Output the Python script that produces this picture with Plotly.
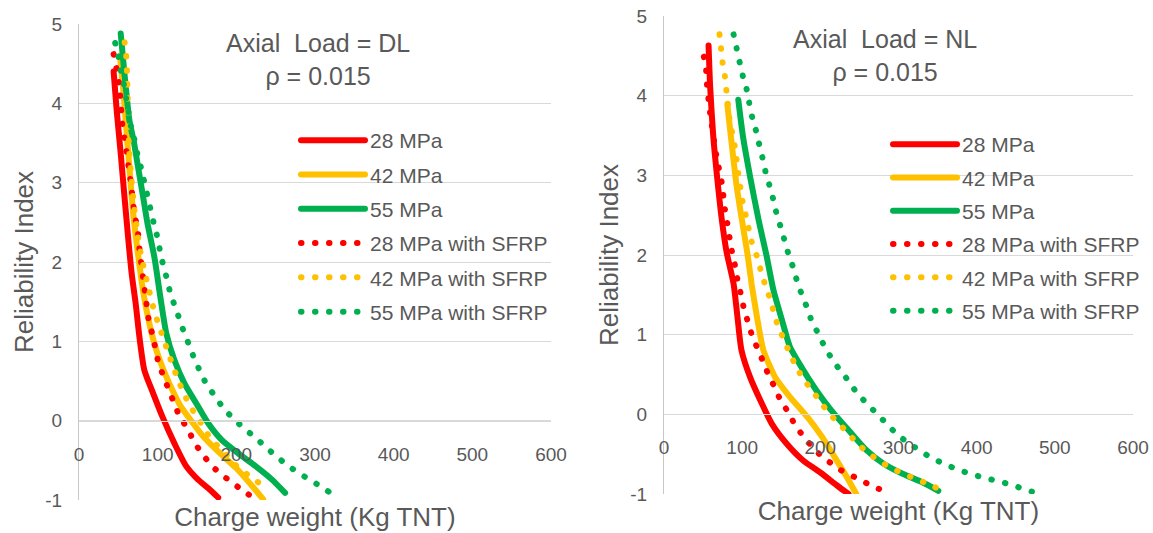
import plotly.graph_objects as go

# ---------------- data ----------------
series_names = ["28 MPa", "42 MPa", "55 MPa",
                "28 MPa with SFRP", "42 MPa with SFRP", "55 MPa with SFRP"]
x_ticks = [0, 100, 200, 300, 400, 500, 600]
y_ticks = [-1, 0, 1, 2, 3, 4, 5]
y_tick_text = ["-1", "0", "1", "2", "3", "4", "5"]

# Left panel: Axial Load = DL
dl_28_x = [44, 48, 53, 58, 63, 67, 72, 77, 83, 94, 106, 121, 136, 151, 164, 177]
dl_28_y = [4.40, 3.90, 3.37, 2.80, 2.25, 1.85, 1.48, 1.04, 0.64, 0.35, 0.05, -0.28, -0.57, -0.74, -0.85, -0.97]
dl_42_x = [52, 56, 60, 64, 69, 75, 82, 90, 98, 107, 118, 130, 144, 158, 178, 200, 218, 234]
dl_42_y = [4.60, 4.20, 3.70, 3.20, 2.60, 2.10, 1.60, 1.20, 0.90, 0.65, 0.40, 0.17, -0.02, -0.20, -0.40, -0.60, -0.80, -0.99]
dl_55_x = [53, 58, 64, 70, 75, 81, 87, 96, 104, 111, 121, 134, 149, 164, 181, 202, 224, 245, 262]
dl_55_y = [4.88, 4.35, 3.79, 3.50, 3.20, 2.85, 2.49, 2.05, 1.52, 1.10, 0.77, 0.47, 0.22, -0.03, -0.24, -0.41, -0.57, -0.74, -0.91]
dl_28s_x = [44, 51, 55, 58, 63, 66, 70, 75, 77, 84, 89, 94, 101, 109, 114, 121, 128, 138, 146, 156, 169, 181, 195, 209, 224]
dl_28s_y = [4.62, 4.25, 3.74, 3.56, 3.20, 2.99, 2.65, 2.36, 2.15, 1.61, 1.25, 1.06, 0.73, 0.52, 0.39, 0.22, 0.05, -0.10, -0.26, -0.41, -0.57, -0.68, -0.78, -0.89, -0.98]
dl_42s_x = [58, 60, 61, 64, 66, 70, 75, 79, 87, 96, 101, 113, 119, 125, 132, 140, 149, 159, 168, 181, 194, 207, 222, 236]
dl_42s_y = [4.77, 4.60, 4.39, 3.37, 3.12, 2.70, 2.32, 2.08, 1.73, 1.37, 1.22, 0.87, 0.70, 0.54, 0.37, 0.21, 0.06, -0.09, -0.24, -0.36, -0.51, -0.63, -0.73, -0.85]
dl_55s_x = [46, 50, 53, 57, 60, 63, 66, 70, 74, 79, 95, 100, 103, 107, 112, 116, 122, 128, 134, 141, 147, 155, 163, 173, 184, 197, 210, 224, 238, 251, 266, 281, 296, 312, 327]
dl_55s_y = [4.76, 4.59, 4.42, 4.24, 4.06, 3.89, 3.71, 3.56, 3.37, 3.18, 2.49, 2.30, 2.14, 1.96, 1.78, 1.61, 1.44, 1.27, 1.10, 0.93, 0.77, 0.60, 0.44, 0.31, 0.15, 0.02, -0.10, -0.21, -0.34, -0.45, -0.57, -0.67, -0.76, -0.86, -0.96]

# Right panel: Axial Load = NL
nl_28_x = [57, 59, 63, 67, 74, 80, 89, 94, 99, 110, 123, 138, 157, 178, 200, 221, 236]
nl_28_y = [4.63, 4.12, 3.49, 3.07, 2.44, 2.04, 1.64, 1.22, 0.81, 0.47, 0.18, -0.12, -0.37, -0.58, -0.73, -0.89, -1.00]
nl_42_x = [81, 87, 93, 101, 107, 112, 119, 127, 142, 161, 183, 202, 221, 234, 246]
nl_42_y = [3.89, 3.36, 2.86, 2.36, 2.00, 1.64, 1.22, 0.81, 0.47, 0.22, -0.03, -0.28, -0.58, -0.79, -1.00]
nl_55_x = [95, 101, 110, 121, 131, 140, 151, 161, 176, 195, 214, 238, 259, 281, 306, 330, 351]
nl_55_y = [3.95, 3.49, 2.99, 2.44, 2.00, 1.56, 1.18, 0.85, 0.59, 0.30, 0.05, -0.22, -0.45, -0.62, -0.75, -0.85, -0.96]
nl_28s_x = [51, 54, 55, 57, 59, 67, 74, 78, 81, 84, 87, 91, 94, 98, 102, 107, 112, 119, 126, 133, 141, 148, 158, 167, 177, 189, 202, 216, 231, 249, 264, 281]
nl_28s_y = [4.49, 4.31, 4.14, 3.95, 3.78, 3.25, 2.90, 2.57, 2.40, 2.21, 2.04, 1.86, 1.69, 1.52, 1.34, 1.17, 1.01, 0.84, 0.68, 0.51, 0.35, 0.20, 0.04, -0.12, -0.26, -0.40, -0.53, -0.63, -0.73, -0.81, -0.89, -0.96]
nl_42s_x = [71, 73, 75, 78, 80, 84, 91, 95, 101, 106, 112, 119, 124, 129, 135, 140, 145, 152, 159, 167, 176, 186, 197, 208, 220, 233, 245, 258, 273, 288, 305, 322, 339, 355]
nl_42s_y = [4.77, 4.59, 4.41, 4.24, 4.05, 3.70, 3.34, 3.03, 2.65, 2.44, 2.17, 1.98, 1.80, 1.64, 1.47, 1.30, 1.13, 0.97, 0.81, 0.64, 0.48, 0.34, 0.20, 0.05, -0.08, -0.21, -0.34, -0.46, -0.57, -0.66, -0.74, -0.81, -0.88, -0.95]
nl_55s_x = [89, 93, 97, 101, 106, 109, 113, 118, 122, 126, 130, 135, 140, 144, 149, 154, 159, 165, 170, 176, 183, 189, 197, 205, 214, 224, 236, 246, 258, 271, 284, 297, 310, 325, 341, 358, 375, 393, 411, 428, 446, 464, 481]
nl_55s_y = [4.77, 4.59, 4.41, 4.24, 4.07, 3.91, 3.72, 3.55, 3.38, 3.22, 3.04, 2.87, 2.69, 2.52, 2.36, 2.19, 2.02, 1.85, 1.68, 1.51, 1.34, 1.17, 1.02, 0.86, 0.71, 0.57, 0.42, 0.28, 0.15, 0.02, -0.11, -0.24, -0.34, -0.44, -0.54, -0.62, -0.69, -0.75, -0.80, -0.84, -0.89, -0.95, -1.00]

panel_titles = ["Axial\u00a0 Load = DL<br>\u03c1 = 0.015", "Axial\u00a0 Load = NL<br>\u03c1 = 0.015"]
x_title = "Charge weight (Kg TNT)"
y_title = "Reliability Index"

# ---------------- styling ----------------
colors = ["#FF0000", "#FFC000", "#00B050", "#FF0000", "#FFC000", "#00B050"]
dashes = ["solid", "solid", "solid", "0.5px,13.5px", "0.5px,13.5px", "0.5px,13.5px"]
TXT = "#595959"
GRID = "#D9D9D9"
FONT = "Liberation Sans, Arial, sans-serif"
W, H = 1153, 533
LW = 6

fig = go.Figure()

left_data = [(dl_28_x, dl_28_y), (dl_42_x, dl_42_y), (dl_55_x, dl_55_y),
             (dl_28s_x, dl_28s_y), (dl_42s_x, dl_42s_y), (dl_55s_x, dl_55s_y)]
right_data = [(nl_28_x, nl_28_y), (nl_42_x, nl_42_y), (nl_55_x, nl_55_y),
              (nl_28s_x, nl_28s_y), (nl_42s_x, nl_42s_y), (nl_55s_x, nl_55s_y)]

for i, (xs, ys) in enumerate(left_data):
    fig.add_trace(go.Scatter(x=xs, y=ys, mode="lines", name=series_names[i],
                             line=dict(color=colors[i], width=LW, dash=dashes[i],
                                       shape="spline", smoothing=0.6),
                             xaxis="x", yaxis="y", legend="legend",
                             legendgroup="L%d" % i))
for i, (xs, ys) in enumerate(right_data):
    fig.add_trace(go.Scatter(x=xs, y=ys, mode="lines", name=series_names[i],
                             line=dict(color=colors[i], width=LW, dash=dashes[i],
                                       shape="spline", smoothing=0.6),
                             xaxis="x2", yaxis="y2", legend="legend2",
                             legendgroup="R%d" % i))

# pixel geometry of each panel (left, right, top, bottom)
panels = [(79, 551, 24, 500), (664, 1133, 16, 494)]


def px_x(p):
    return p / W


def px_y(p):
    return 1 - p / H


axis_common_x = dict(range=[0, 600], tickvals=x_ticks, showgrid=False, zeroline=False,
                     showline=True, linecolor=GRID, linewidth=1.3, ticks="",
                     automargin=False,
                     tickfont=dict(size=19, color=TXT, family=FONT),
                     ticklabelstandoff=16,
                     title=dict(text=x_title, font=dict(size=26, color=TXT, family=FONT), standoff=44))
axis_common_y = dict(range=[-1, 5], tickvals=y_ticks, ticktext=y_tick_text,
                     showgrid=True, gridcolor=GRID, gridwidth=1.3,
                     zeroline=False, showline=True, linecolor="#C8C8C8", linewidth=1.3, ticks="",
                     automargin=False,
                     tickfont=dict(size=19, color=TXT, family=FONT),
                     ticklabelstandoff=12,
                     title=dict(text=y_title, font=dict(size=26, color=TXT, family=FONT), standoff=4))

(l1, r1, t1, b1), (l2, r2, t2, b2) = panels
y0_left = px_y(t1 + (b1 - t1) * 5 / 6)
y0_right = px_y(t2 + (b2 - t2) * 5 / 6)

fig.update_layout(
    width=W, height=H,
    margin=dict(l=0, r=0, t=0, b=0, autoexpand=False),
    paper_bgcolor="white", plot_bgcolor="white",
    font=dict(family=FONT, color=TXT),
    showlegend=True,
    xaxis=dict(domain=[px_x(l1), px_x(r1)], anchor="free", position=y0_left, **axis_common_x),
    yaxis=dict(domain=[px_y(b1), px_y(t1)], anchor="x", **axis_common_y),
    xaxis2=dict(domain=[px_x(l2), px_x(r2)], anchor="free", position=y0_right, **axis_common_x),
    yaxis2=dict(domain=[px_y(b2), px_y(t2)], anchor="x2", **axis_common_y),
    legend=dict(x=px_x(296), y=px_y(120), xanchor="left", yanchor="top",
                bgcolor="rgba(0,0,0,0)", font=dict(size=21, color=TXT, family=FONT),
                tracegroupgap=4, itemwidth=64),
    legend2=dict(x=px_x(888), y=px_y(124), xanchor="left", yanchor="top",
                 bgcolor="rgba(0,0,0,0)", font=dict(size=21, color=TXT, family=FONT),
                 tracegroupgap=3, itemwidth=64),
    annotations=[
        dict(text=panel_titles[0], x=px_x(318), y=px_y(59), xref="paper", yref="paper",
             xanchor="center", yanchor="middle",
             showarrow=False, font=dict(size=25, color=TXT, family=FONT), align="center"),
        dict(text=panel_titles[1], x=px_x(885), y=px_y(56), xref="paper", yref="paper",
             xanchor="center", yanchor="middle",
             showarrow=False, font=dict(size=25, color=TXT, family=FONT), align="center"),
    ],
)

post = """
document.body.style.margin = '0';
var gd = document.getElementById('{plot_id}');
function roundCaps() {
  gd.querySelectorAll('path.js-line').forEach(function (p) {
    p.style.strokeLinecap = 'round';
    p.style.strokeLinejoin = 'round';
  });
}
roundCaps();
gd.on('plotly_afterplot', roundCaps);
"""

fig.write_html("out.html", post_script=post, config={"displayModeBar": False})
